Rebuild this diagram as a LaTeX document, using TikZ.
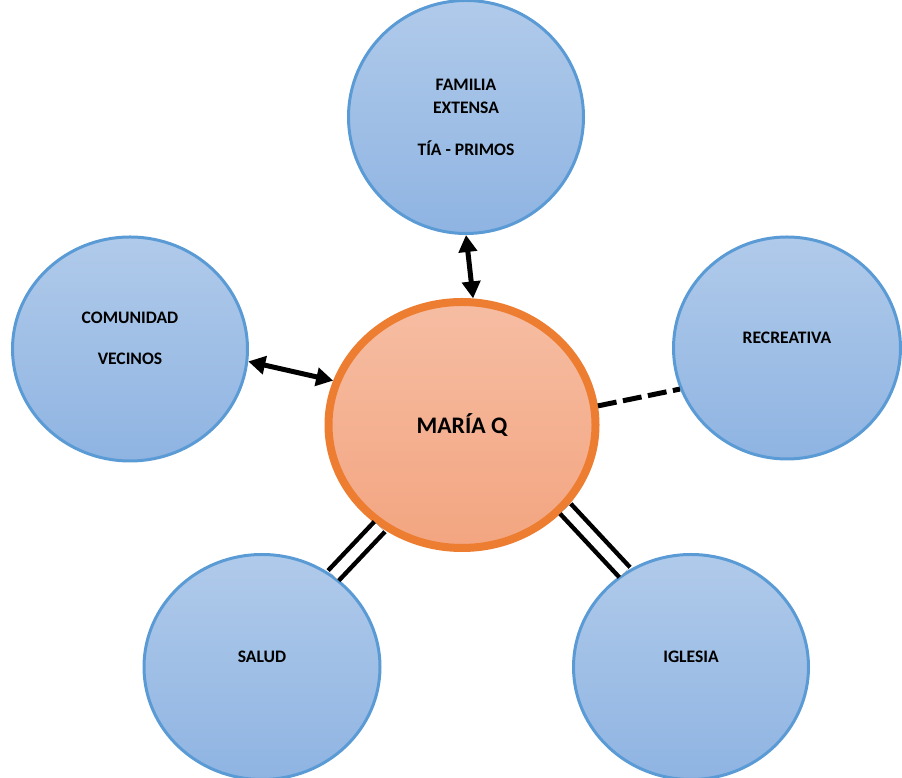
\documentclass[tikz,border=0pt]{standalone}
\usepackage{fontspec}
\setmainfont{Carlito}
\usetikzlibrary{shapes.geometric,arrows.meta}
\definecolor{bluline}{HTML}{5B9BD5}
\definecolor{blutop}{HTML}{B0CAEA}
\definecolor{blubot}{HTML}{8FB4E2}
\definecolor{orgline}{HTML}{ED7D31}
\definecolor{orgtop}{HTML}{F6BDA3}
\definecolor{orgbot}{HTML}{F3A580}

\begin{document}
\begin{tikzpicture}[
    bubble/.style={ellipse,draw=bluline,line width=0.06cm,top color=blutop,bottom color=blubot,
        align=center,inner sep=0pt,font=\bfseries\fontsize{10}{12}\selectfont},
    hub/.style={ellipse,draw=orgline,line width=0.16cm,top color=orgtop,bottom color=orgbot,
        inner sep=0pt,font=\bfseries\fontsize{13.5}{16}\selectfont},
    both/.style={line width=0.1cm,{Triangle[length=0.34cm,width=0.36cm]}-{Triangle[length=0.34cm,width=0.36cm]}},
    weak/.style={line width=0.1cm,dash pattern=on 0.38cm off 0.13cm},
    strong/.style={line width=0.09cm,double=white,double distance=0.2cm}]
\useasboundingbox (0,0) rectangle (18.04,15.56);
\draw
    (9.24,7.06) node [hub,minimum width=5.34cm,minimum height=4.92cm] (maria) {MARÍA Q};
\draw
    (9.32,13.22) node [bubble,minimum width=4.7cm,minimum height=4.66cm] (fam)
        {FAMILIA\\[0.04cm]EXTENSA\\[0.42cm]TÍA - PRIMOS}
    (2.6,8.58) node [bubble,minimum width=4.7cm,minimum height=4.48cm] (com)
        {COMUNIDAD\\[0.4cm]VECINOS\\[0.02cm]\mbox{}}
    (15.74,8.6) node [bubble,minimum width=4.54cm,minimum height=4.44cm] (rec)
        {RECREATIVA\\\mbox{}}
    (5.24,2.22) node [bubble,minimum width=4.72cm,minimum height=4.5cm] (sal)
        {SALUD\\\mbox{}}
    (13.82,2.22) node [bubble,minimum width=4.7cm,minimum height=4.5cm] (igl)
        {IGLESIA\\\mbox{}};
\draw [both] (fam.270) to (maria.85);
\draw [both] (com.354) to (maria.161);
\draw [weak] (maria.8) to (rec.201);
\draw [strong] (maria.231) to (sal.52);
\draw [strong] (maria.321) to (igl.125);
\end{tikzpicture}
\end{document}
